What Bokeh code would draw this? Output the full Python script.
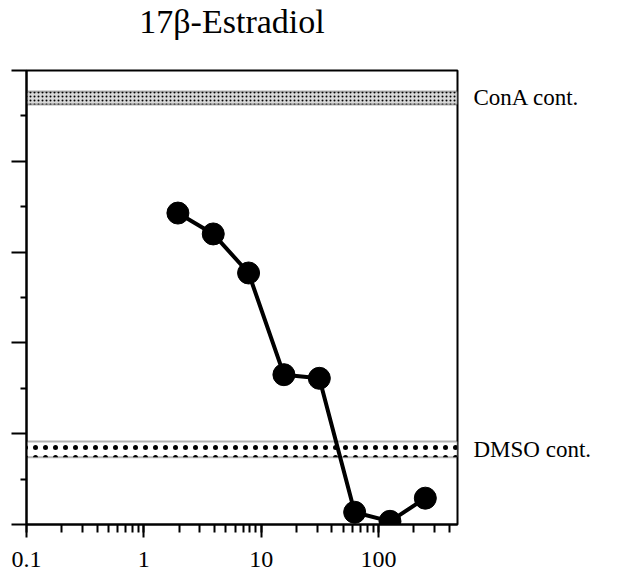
from bokeh.plotting import figure
from bokeh.layouts import row, column
from bokeh.models import (Range1d, LogTicker, FixedTicker, CustomJSTickFormatter,
                          BoxAnnotation)
from bokeh.core.properties import value
from bokeh.embed import file_html
from bokeh.resources import INLINE

# ---- data ----
conc = [1.95, 3.9, 7.8, 15.6, 31.25, 62.5, 125, 250]
response = [68.6, 64.0, 55.4, 33.0, 32.2, 2.7, 0.7, 5.8]
cona_band = [92.5, 95.4]      # ConA control (low, high)
dmso_band = [14.8, 18.3]      # DMSO control (low, high)
x_ticks = [0.1, 1, 10, 100]
x_tick_labels = ["0.1", "1", "10", "100"]
y_major = [0, 20, 40, 60, 80, 100]
y_minor = [10, 30, 50, 70, 90]
title_text = "17β-Estradiol"
band_labels = ["ConA cont.", "DMSO cont."]

SERIF = "Liberation Serif"
X_END = 470
TITLE_H = 62
BODY_H = 583 - TITLE_H
TOP, BOTTOM = 8, 59

# ---- title strip ----
t = figure(width=618, height=TITLE_H, x_range=Range1d(0, 618),
           y_range=Range1d(TITLE_H, 0), output_backend="svg",
           toolbar_location=None, x_axis_location=None, y_axis_location=None,
           min_border=0)
t.grid.visible = False
t.outline_line_color = None
t.background_fill_color = "white"
t.border_fill_color = "white"
t.text(x=[231.5], y=[21], text=[title_text], text_font=value(SERIF),
       text_font_size=value("34px"), text_align="center",
       text_baseline="alphabetic", text_color="black")

# ---- main plot ----
p = figure(width=459, height=BODY_H, x_axis_type="log",
           x_range=Range1d(0.1, X_END), y_range=Range1d(0, 100),
           output_backend="svg", toolbar_location=None,
           min_border_left=26, min_border_right=2,
           min_border_top=TOP, min_border_bottom=BOTTOM)

p.grid.visible = False
p.background_fill_color = "white"
p.border_fill_color = "white"
p.outline_line_color = "black"
p.outline_line_width = 2

# x axis
xa = p.xaxis[0]
xa.ticker = LogTicker(num_minor_ticks=10, desired_num_ticks=4)
xa.major_label_overrides = {t_: l for t_, l in zip(x_ticks, x_tick_labels)}
xa.axis_line_width = 2
xa.axis_line_color = "black"
xa.major_tick_in = 0
xa.major_tick_out = 13
xa.minor_tick_in = 0
xa.minor_tick_out = 8
xa.major_tick_line_width = 2
xa.minor_tick_line_width = 2
xa.major_tick_line_color = "black"
xa.minor_tick_line_color = "black"
xa.major_label_text_font = SERIF
xa.major_label_text_font_size = "24px"
xa.major_label_text_color = "black"
xa.major_label_standoff = 14

# y axis (no labels)
ya = p.yaxis[0]
ya.ticker = FixedTicker(ticks=y_major, minor_ticks=y_minor)
ya.formatter = CustomJSTickFormatter(code="return ''")
ya.axis_line_width = 2
ya.axis_line_color = "black"
ya.major_tick_in = 0
ya.major_tick_out = 15
ya.minor_tick_in = 0
ya.minor_tick_out = 6
ya.major_tick_line_width = 2
ya.minor_tick_line_width = 2
ya.major_tick_line_color = "black"
ya.minor_tick_line_color = "black"
ya.major_label_standoff = 0

# control bands
cona = BoxAnnotation(bottom=cona_band[0], top=cona_band[1],
                     fill_color="#d8d8d8", fill_alpha=1,
                     line_color="black", line_width=2,
                     hatch_pattern="dot", hatch_scale=4, hatch_weight=2.5,
                     hatch_color="black", hatch_alpha=1, level="underlay")
dmso = BoxAnnotation(bottom=dmso_band[0], top=dmso_band[1],
                     fill_color="white", fill_alpha=1,
                     line_color="black", line_width=2,
                     hatch_pattern="dot", hatch_scale=10, hatch_weight=1.5,
                     hatch_color="black", hatch_alpha=1, level="underlay")
p.add_layout(cona)
p.add_layout(dmso)

# data series
p.line(conc, response, line_color="black", line_width=4)
p.scatter(conc, response, size=22, fill_color="black", line_color="black")

# ---- side panel with the band labels, sharing the y range ----
s = figure(width=159, height=BODY_H, x_range=Range1d(0, 1), y_range=p.y_range,
           output_backend="svg", toolbar_location=None,
           x_axis_location=None, y_axis_location=None,
           min_border_left=0, min_border_right=0,
           min_border_top=TOP, min_border_bottom=BOTTOM)
s.grid.visible = False
s.outline_line_color = None
s.background_fill_color = "white"
s.border_fill_color = "white"
band_mid = [sum(cona_band) / 2, sum(dmso_band) / 2]
s.text(x=[0, 0], y=band_mid, text=band_labels, x_offset=14,
       text_font=value(SERIF), text_font_size=value("23px"),
       text_baseline="middle", text_align="left", text_color="black")

layout = column(t, row(p, s))
open("out.html", "w").write(file_html(layout, INLINE))
